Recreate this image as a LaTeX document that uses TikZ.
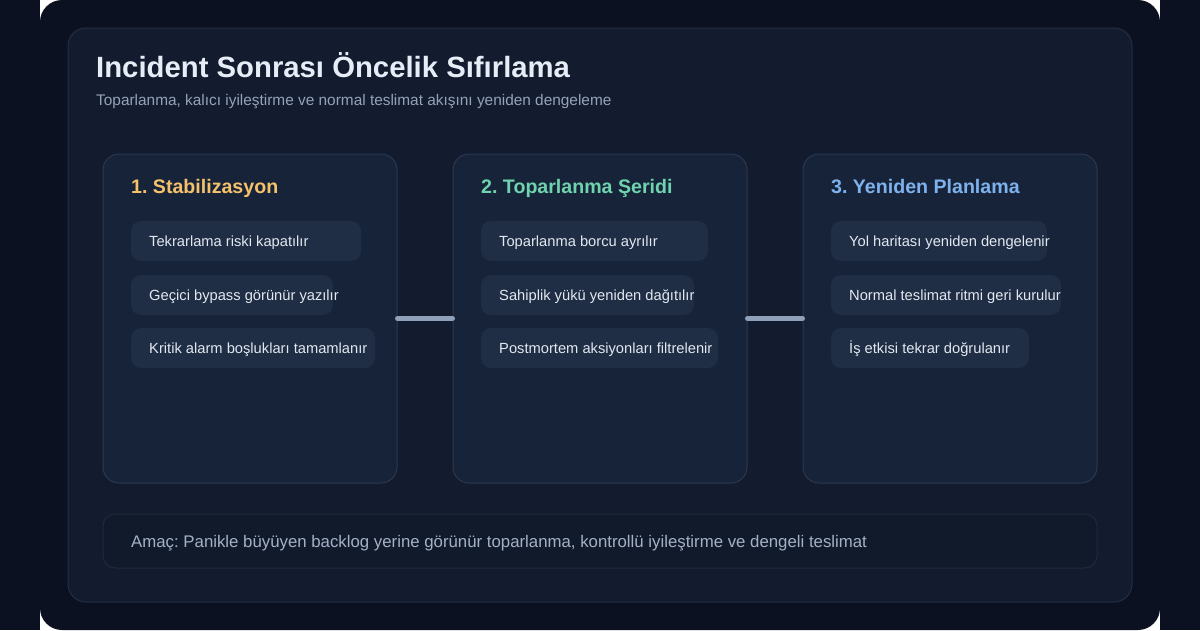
\documentclass[tikz,border=0pt]{standalone}
\usepackage{fontspec}
\setmainfont{Liberation Sans}
\usetikzlibrary{positioning}
\frenchspacing
\definecolor{pagebg}{HTML}{0B1120}
\definecolor{panelbg}{HTML}{131B2E}
\definecolor{panelline}{HTML}{222E45}
\definecolor{cardbg}{HTML}{172338}
\definecolor{cardline}{HTML}{2A3850}
\definecolor{pillbg}{HTML}{1F2D45}
\definecolor{titletext}{HTML}{E6EDF7}
\definecolor{subtext}{HTML}{94A3B8}
\definecolor{itemtext}{HTML}{E2E8F0}
\definecolor{stepamber}{HTML}{F5C26B}
\definecolor{stepteal}{HTML}{6ED3AE}
\definecolor{stepblue}{HTML}{7EB2EE}
\definecolor{linkgray}{HTML}{8FA0B8}
\definecolor{goalbg}{HTML}{111A2B}
\definecolor{goalline}{HTML}{1F2A3D}
\definecolor{goaltext}{HTML}{A3B1C6}

\begin{document}
\begin{tikzpicture}[x=1pt, y=-1pt,
    card/.style={draw=cardline, fill=cardbg, line width=1pt, rounded corners=16pt,
      minimum width=294pt, minimum height=329pt, inner sep=0pt},
    head/.style={anchor=base west, inner sep=0pt, font=\fontsize{19.6}{23}\selectfont\bfseries},
    item/.style={anchor=base west, inner sep=0pt, text=itemtext, font=\fontsize{14.7}{17}\selectfont},
    pill/.style={fill=pillbg, rounded corners=10pt},
    link/.style={draw=linkgray, line width=5pt, line cap=round}]
    % page and panel
    \fill[pagebg] (0,0) rectangle (1200,630);
    \fill[white] (40,0) rectangle (1160,630);
    \fill[pagebg, rounded corners=22pt] (40,0) rectangle (1160,630);
    \draw[fill=panelbg, draw=panelline, line width=1pt, rounded corners=18pt] (68,28) rectangle (1132,602);
    \useasboundingbox (0,0) rectangle (1200,630);

    \node[anchor=base west, inner sep=0pt, text=titletext, font=\fontsize{29.3}{34}\selectfont\bfseries] (title) at (96,77) {Incident Sonrası Öncelik Sıfırlama};
    \node[anchor=base west, inner sep=0pt, text=subtext, font=\fontsize{15.4}{18}\selectfont] (subtitle) at (96,105) {Toparlanma, kalıcı iyileştirme ve normal teslimat akışını yeniden dengeleme};

    % step 1
    \node[card] (c1) at (250,318.5) {};
    \node[head, text=stepamber] (h1) at (131,193) {1. Stabilizasyon};
    \foreach \top/\w/\t [count=\i] in {221/230/Tekrarlama riski kapatılır, 275/202/Geçici bypass görünür yazılır, 328/244/Kritik alarm boşlukları tamamlanır} {
      \fill[pill] (131,\top) rectangle ++(\w,40);
      \node[item] (s1-\i) at (149,\top+25.5) {\t};
    }

    % step 2
    \node[card] (c2) at (600,318.5) {};
    \node[head, text=stepteal] (h2) at (481,193) {2. Toparlanma Şeridi};
    \foreach \top/\w/\t [count=\i] in {221/227/Toparlanma borcu ayrılır, 275/213/Sahiplik yükü yeniden dağıtılır, 328/237/Postmortem aksiyonları filtrelenir} {
      \fill[pill] (481,\top) rectangle ++(\w,40);
      \node[item] (s2-\i) at (499,\top+25.5) {\t};
    }

    % step 3
    \node[card] (c3) at (950,318.5) {};
    \node[head, text=stepblue] (h3) at (831,193) {3. Yeniden Planlama};
    \foreach \top/\w/\t [count=\i] in {221/216/Yol haritası yeniden dengelenir, 275/230/Normal teslimat ritmi geri kurulur, 328/198/İş etkisi tekrar doğrulanır} {
      \fill[pill] (831,\top) rectangle ++(\w,40);
      \node[item] (s3-\i) at (849,\top+25.5) {\t};
    }

    \draw[link] (c1.east) -- (c2.west);
    \draw[link] (c2.east) -- (c3.west);

    % goal line
    \node[draw=goalline, fill=goalbg, line width=1pt, rounded corners=12pt,
      minimum width=994pt, minimum height=54pt] (goal) at (600,541) {};
    \node[anchor=base west, inner sep=0pt, text=goaltext, font=\fontsize{16.8}{20}\selectfont] (goaltxt) at (131,547.5) {Amaç: Panikle büyüyen backlog yerine görünür toparlanma, kontrollü iyileştirme ve dengeli teslimat};
\end{tikzpicture}
\end{document}
